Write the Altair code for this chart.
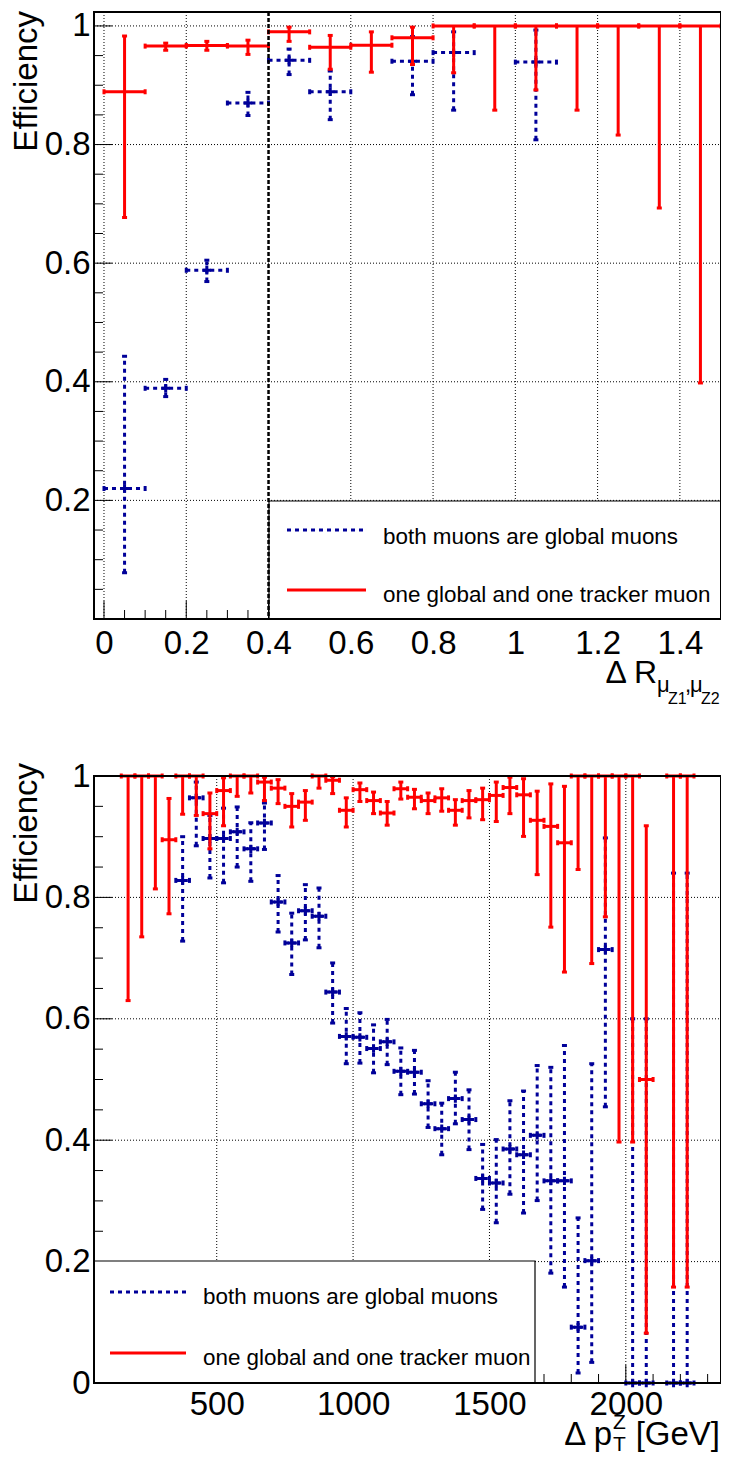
import altair as alt
import numpy as np
import pandas as pd

FONT = "Liberation Sans"
BLUE = "#000099"
RED = "#ff0000"
LBL_BLUE = "both muons are global muons"
LBL_RED = "one global and one tracker muon"

# ---------------- top panel: efficiency vs Delta R(mu_Z1, mu_Z2) ----------------
dr_centers = [0.05, 0.15, 0.25, 0.35, 0.45, 0.55, 0.65, 0.75, 0.85, 0.95, 1.05, 1.15, 1.25, 1.35, 1.45]
dr_half = 0.05
dr_red_eff = [0.889, 0.966, 0.967, 0.966, 0.990, 0.964, 0.9675, 0.980, 1.0, 1.0, 1.0, 1.0, 1.0, 1.0, 1.0]
dr_red_lo = [0.677, 0.959, 0.959, 0.952, 0.974, 0.927, 0.922, 0.935, 0.921, 0.858, 0.892, 0.858, 0.816, 0.693, 0.398]
dr_red_hi = [0.983, 0.971, 0.974, 0.976, 0.998, 0.984, 0.990, 0.998, 1.0, 1.0, 1.0, 1.0, 1.0, 1.0, 1.0]
dr_blue_eff = [0.220, 0.389, 0.588, 0.870, 0.942, 0.889, None, 0.9405, 0.955, None, 0.939, None, None, None, None]
dr_blue_lo = [0.078, 0.375, 0.569, 0.849, 0.918, 0.842, None, 0.884, 0.858, None, 0.808, None, None, None, None]
dr_blue_hi = [0.443, 0.404, 0.605, 0.888, 0.961, 0.924, None, 0.982, 0.990, None, 0.993, None, None, None, None]

# ---------------- bottom panel: efficiency vs Delta pT^Z ----------------
pt_centers = [175, 225, 275, 325, 375, 425, 475, 525, 575, 625, 675, 725, 775, 825,
              875, 925, 975, 1025, 1075, 1125, 1175, 1225, 1275, 1325, 1375, 1425,
              1475, 1525, 1575, 1625, 1675, 1725, 1775, 1825, 1875, 1925, 1975, 2025,
              2075, 2125, 2175, 2225]
pt_half = 25
pt_red_eff = [1.0, 1.0, 1.0, 0.895, 1.0, 1.0, 0.938, 0.976, 1.0, 1.0, 0.990, 0.980, 0.950, 0.957,
              1.0, 0.993, 0.9435, 0.9775, 0.9595, 0.939, 0.979, 0.965, 0.9595, 0.964, 0.9435, 0.9595,
              0.961, 0.968, 0.981, 0.969, 0.927, 0.917, 0.890, 1.0, 1.0, 1.0, 1.0, 1.0,
              0.500, None, 1.0, 1.0]
pt_red_lo = [0.630, 0.735, 0.814, 0.773, 0.937, 0.935, 0.880, 0.918, 0.9665, 0.972, 0.9595, 0.9545, 0.916, 0.927,
             0.980, 0.971, 0.916, 0.958, 0.938, 0.919, 0.962, 0.946, 0.938, 0.942, 0.919, 0.931,
             0.928, 0.925, 0.938, 0.9005, 0.8375, 0.751, 0.677, 0.846, 0.691, 0.768, 0.397, 0.397,
             0.082, None, 0.158, 0.158]
pt_red_hi = [1.0, 1.0, 1.0, 0.963, 1.0, 1.0, 0.972, 0.997, 1.0, 1.0, 0.998, 0.994, 0.971, 0.976,
             1.0, 0.999, 0.964, 0.9885, 0.9735, 0.958, 0.990, 0.978, 0.972, 0.979, 0.961, 0.976,
             0.980, 0.990, 0.998, 0.9955, 0.975, 0.987, 0.983, 1.0, 1.0, 1.0, 1.0, 1.0,
             0.918, None, 1.0, 1.0]
pt_blue_eff = [None, None, None, None, 0.828, 0.964, 0.897, 0.897, 0.908, 0.880, 0.9226, 0.7925, 0.725, 0.778,
               0.769, 0.644, 0.571, 0.5695, 0.551, 0.562, 0.5135, 0.512, 0.460, 0.419, 0.4685, 0.434,
               0.337, 0.3295, 0.3855, 0.376, 0.408, 0.333, 0.333, 0.092, 0.2016, 0.714, None, 0.0,
               0.0, None, 0.0, 0.0]
pt_blue_lo = [None, None, None, None, 0.728, 0.885, 0.832, 0.824, 0.850, 0.8265, 0.879, 0.743, 0.673, 0.730,
              0.717, 0.593, 0.526, 0.527, 0.511, 0.5245, 0.475, 0.476, 0.421, 0.376, 0.427, 0.3845,
              0.286, 0.264, 0.311, 0.280, 0.3005, 0.181, 0.158, 0.0165, 0.034, 0.455, None, 0.0,
              0.0, None, 0.0, 0.0]
pt_blue_hi = [None, None, None, None, 0.900, 0.990, 0.935, 0.947, 0.949, 0.923, 0.9555, 0.836, 0.774, 0.821,
              0.8155, 0.692, 0.617, 0.610, 0.590, 0.599, 0.552, 0.548, 0.498, 0.461, 0.512, 0.483,
              0.393, 0.401, 0.465, 0.481, 0.523, 0.520, 0.556, 0.272, 0.526, 0.898, None, 0.600,
              0.600, None, 0.840, 0.840]

# one view holding both panels (pixel layout of the view)
W = 627
TOP = (0, 607)        # top panel: y pixel range (top, bottom)
BOT = (764, 1371)     # bottom panel
VIEW_H = 1371


def table(centers, half, eff, lo, hi):
    rows = []
    for c, e, l, h in zip(centers, eff, lo, hi):
        if e is None:
            continue
        rows.append(dict(x=c, xlo=c - half, xhi=c + half, y=e, ylo=l, yhi=h))
    return pd.DataFrame(rows)


def cap_tables(df):
    v, h = [], []
    for _, r in df.iterrows():
        if r.ylo < r.y:
            v.append(dict(x=r.x, yc=r.ylo))
        if r.yhi > r.y:
            v.append(dict(x=r.x, yc=r.yhi))
        h.append(dict(xc=r.xlo, y=r.y))
        h.append(dict(xc=r.xhi, y=r.y))
    return pd.DataFrame(v), pd.DataFrame(h)


class Panel:
    def __init__(self, xdom, ydom, prange, xlabels, ylabels, xfmt, xpad):
        self.top, self.bot = prange
        self.xs = alt.Scale(domain=xdom, range=[0, W], nice=False, zero=False)
        self.ys = alt.Scale(domain=ydom, range=[self.bot, self.top], nice=False, zero=False)
        common = dict(labelFontSize=33, labelFont=FONT, labelColor="black", ticks=False,
                      tickSize=0, domain=False, grid=False, title=None, labelFlush=False,
                      labelOverlap=False, labelBound=False)
        self.xa = alt.Axis(orient="bottom", offset=self.bot - VIEW_H, values=xlabels,
                           format=xfmt, labelPadding=xpad, **common)
        self.ya = alt.Axis(orient="left", values=ylabels, format="~g", labelPadding=4, **common)

    def X(self, f, axis=False):
        return alt.X(f, scale=self.xs, axis=self.xa if axis else None)

    def Y(self, f, axis=False):
        return alt.Y(f, scale=self.ys, axis=self.ya if axis else None)


def series(p, df, color, dash, marker):
    kw = dict(color=color, strokeWidth=3)
    if dash:
        kw["strokeDash"] = dash
    out = [
        alt.Chart(df).mark_rule(**kw).encode(x=p.X("xlo:Q"), x2="xhi:Q", y=p.Y("y:Q")),
        alt.Chart(df[df.ylo < df.yhi]).mark_rule(**kw).encode(
            x=p.X("x:Q"), y=p.Y("ylo:Q"), y2="yhi:Q"),
    ]
    cv, ch = cap_tables(df)
    pk = dict(filled=False, stroke=color, strokeWidth=3, opacity=1)
    if len(cv):
        out.append(alt.Chart(cv).mark_point(shape="M-1,0L1,0", size=25, **pk).encode(
            x=p.X("x:Q"), y=p.Y("yc:Q")))
    out.append(alt.Chart(ch).mark_point(shape="M0,-1L0,1", size=25, **pk).encode(
        x=p.X("xc:Q"), y=p.Y("y:Q")))
    if marker:
        out.append(alt.Chart(df).mark_point(shape="M-1,0L1,0M0,-1L0,1", size=70, **pk).encode(
            x=p.X("x:Q"), y=p.Y("y:Q")))
    return out


def grid_layers(p, xgrid, ygrid):
    gk = dict(color="black", strokeWidth=1, strokeDash=[1, 2])
    return [
        alt.Chart(pd.DataFrame({"v": xgrid})).mark_rule(**gk).encode(
            x=p.X("v:Q"), y=alt.value(p.top), y2=alt.value(p.bot)),
        alt.Chart(pd.DataFrame({"v": ygrid})).mark_rule(**gk).encode(
            y=p.Y("v:Q"), x=alt.value(0), x2=alt.value(W)),
    ]


def tick_layers(p, xmaj, xmin, ymaj, ymin):
    tk = dict(filled=False, stroke="black", strokeWidth=1, opacity=1)
    return [
        alt.Chart(pd.DataFrame({"v": ymaj})).mark_point(shape="M0,0L2,0", size=324, **tk).encode(
            x=alt.value(0), y=p.Y("v:Q", axis=True)),
        alt.Chart(pd.DataFrame({"v": ymin})).mark_point(shape="M0,0L2,0", size=81, **tk).encode(
            x=alt.value(0), y=p.Y("v:Q")),
        alt.Chart(pd.DataFrame({"v": xmaj})).mark_point(shape="M0,0L0,-2", size=324, **tk).encode(
            y=alt.value(p.bot), x=p.X("v:Q", axis=True)),
        alt.Chart(pd.DataFrame({"v": xmin})).mark_point(shape="M0,0L0,-2", size=81, **tk).encode(
            y=alt.value(p.bot), x=p.X("v:Q")),
    ]


def text(t, x, y, size, align="left", angle=0):
    kw = dict(font=FONT, fontSize=size, color="black", align=align, baseline="alphabetic")
    if angle:
        kw["angle"] = angle
    return alt.Chart(pd.DataFrame({"t": [t]})).mark_text(**kw).encode(
        x=alt.value(x), y=alt.value(y), text="t:N")


def rect(x0, x1, y0, y1, fill):
    kw = dict(stroke="black", strokeWidth=(1.2 if fill else 2))
    if fill:
        kw["fill"] = "white"
    else:
        kw["fillOpacity"] = 0
    return alt.Chart(pd.DataFrame({"a": [0]})).mark_rect(**kw).encode(
        x=alt.value(x0), x2=alt.value(x1), y=alt.value(y0), y2=alt.value(y1))


def legend(x0, x1, y0, y1, lx0, lx1, ly_b, ly_r, tx, tb_b, tb_r):
    one = pd.DataFrame({"a": [0]})
    lb = alt.Chart(one).mark_rule(color=BLUE, strokeWidth=3, strokeDash=[4, 4]).encode(
        x=alt.value(lx0), x2=alt.value(lx1), y=alt.value(ly_b))
    lr = alt.Chart(one).mark_rule(color=RED, strokeWidth=3).encode(
        x=alt.value(lx0), x2=alt.value(lx1), y=alt.value(ly_r))
    return [rect(x0, x1, y0, y1, True), lb, lr,
            text(LBL_BLUE, tx, tb_b, 22.4), text(LBL_RED, tx, tb_r, 22.4)]


layers = []

# ---------- top panel ----------
p1 = Panel([-0.0243, 1.5], [0.0, 1.0235], TOP, [0, 0.2, 0.4, 0.6, 0.8, 1, 1.2, 1.4],
           [0.2, 0.4, 0.6, 0.8, 1], "~g", 8)
dr_red = table(dr_centers, dr_half, dr_red_eff, dr_red_lo, dr_red_hi)
dr_blue = table(dr_centers, dr_half, dr_blue_eff, dr_blue_lo, dr_blue_hi)
t_xmaj = [0.0, 0.2, 0.4, 0.6, 0.8, 1.0, 1.2, 1.4]
t_xmin = [round(v, 2) for v in np.arange(0.05, 1.451, 0.05) if round(v, 2) not in t_xmaj]
t_ymaj = [0.2, 0.4, 0.6, 0.8, 1.0]
t_ymin = [round(v, 2) for v in np.arange(0.05, 1.001, 0.05) if round(v, 2) not in t_ymaj]

layers += grid_layers(p1, t_xmaj, [0.2, 0.4, 0.6, 0.8, 1.0])
layers += tick_layers(p1, t_xmaj, t_xmin, t_ymaj, t_ymin)
layers += series(p1, dr_blue, BLUE, [4, 4], True)
layers += series(p1, dr_red, RED, None, False)
layers += legend(175, W, 489, 607, 193, 272, 518, 578, 289, 532, 590)
layers.append(alt.Chart(pd.DataFrame({"x": [0.4]})).mark_rule(
    color="black", strokeWidth=2.5, strokeDash=[4, 2]).encode(
    x=p1.X("x:Q"), y=alt.value(TOP[0]), y2=alt.value(TOP[1])))
layers.append(rect(0, W, TOP[0], TOP[1], False))
layers += [
    text("Efficiency", -57, -1, 33, align="right", angle=270),
    text("\u0394 R", 563, 671, 32, align="right"),
    text("\u03bc", 563, 680, 22),
    text("Z1", 574, 692, 16),
    text(",", 591, 680, 22),
    text("\u03bc", 596, 680, 22),
    text("Z2", 607, 692, 16),
]

# ---------- bottom panel ----------
p2 = Panel([50, 2349], [0.0, 1.0], BOT, [500, 1000, 1500, 2000], [0, 0.2, 0.4, 0.6, 0.8, 1], "d", 5)
pt_red = table(pt_centers, pt_half, pt_red_eff, pt_red_lo, pt_red_hi)
pt_blue = table(pt_centers, pt_half, pt_blue_eff, pt_blue_lo, pt_blue_hi)
b_xmaj = [500, 1000, 1500, 2000]
b_xmin = [v for v in range(100, 2301, 100) if v not in b_xmaj]
b_ymaj = [0.2, 0.4, 0.6, 0.8]
b_ymin = [round(v, 2) for v in np.arange(0.05, 0.951, 0.05) if round(v, 2) not in b_ymaj]

layers += grid_layers(p2, b_xmaj, [0.2, 0.4, 0.6, 0.8])
layers += tick_layers(p2, b_xmaj, b_xmin, b_ymaj, b_ymin)
layers += series(p2, pt_blue, BLUE, [4, 4], True)
layers += series(p2, pt_red, RED, None, False)
layers += legend(0, 441, 1249, 1371, 16, 92, 1280, 1341, 109, 1292, 1353)
layers.append(rect(0, W, BOT[0], BOT[1], False))
layers += [
    text("Efficiency", -57, 751, 33, align="right", angle=270),
    text("\u0394 p", 518, 1433, 33, align="right"),
    text("Z", 519, 1417, 21),
    text("T", 519, 1439, 21),
    text("[GeV]", 626, 1433, 33, align="right"),
]

chart = alt.layer(*layers).resolve_scale(x="independent", y="independent").properties(
    width=W, height=VIEW_H,
    autosize=alt.AutoSizeParams(type="none"),
    padding={"left": 86, "top": 4, "right": 0, "bottom": 74},
    background="white",
).configure_view(stroke=None)

chart.save("out.html", embed_options={"renderer": "svg", "actions": False})
